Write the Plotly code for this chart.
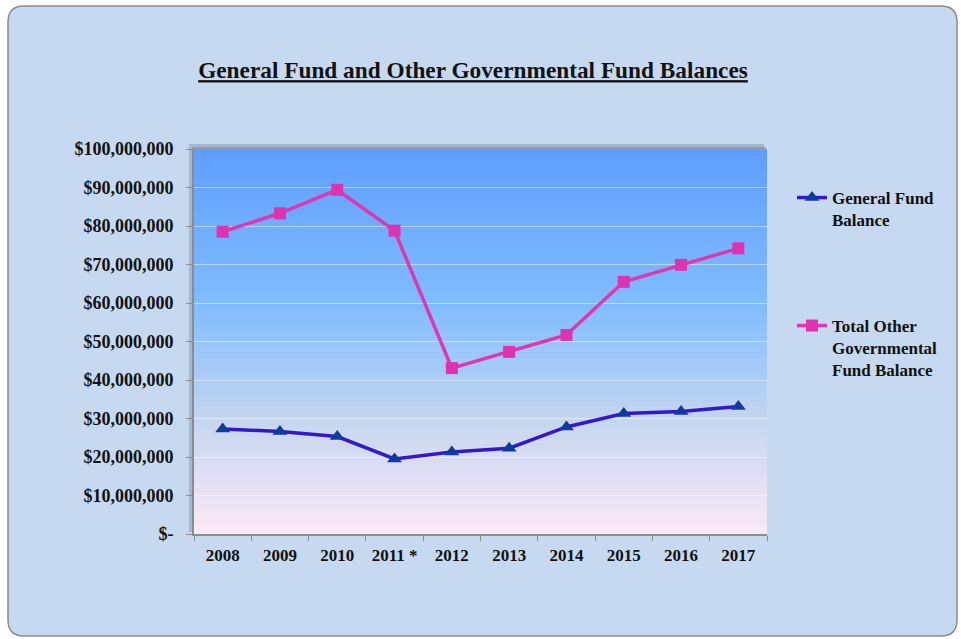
import plotly.graph_objects as go

# ---- data ----
years = ["2008", "2009", "2010", "2011 *", "2012", "2013", "2014", "2015", "2016", "2017"]
general_fund = [27.3e6, 26.6e6, 25.3e6, 19.5e6, 21.3e6, 22.3e6, 27.8e6, 31.3e6, 31.8e6, 33.1e6]
other_gov_fund = [78.5e6, 83.3e6, 89.4e6, 78.8e6, 43.1e6, 47.3e6, 51.7e6, 65.5e6, 69.9e6, 74.2e6]
y_tickvals = [0, 10e6, 20e6, 30e6, 40e6, 50e6, 60e6, 70e6, 80e6, 90e6, 100e6]
y_ticktext = ["$-", "$10,000,000", "$20,000,000", "$30,000,000", "$40,000,000",
              "$50,000,000", "$60,000,000", "$70,000,000", "$80,000,000",
              "$90,000,000", "$100,000,000"]

W, H = 961, 639
FONT = "Liberation Serif"

# plot area in pixels
PX0, PX1 = 194, 767
PY0, PY1 = 149, 534


def fx(px):
    return px / W


def fy(py):
    return 1 - py / H


shapes = []

# rounded panel behind everything
x0, x1, y0, y1 = fx(8), fx(957), fy(636), fy(6)
rx, ry = 16 / W, 16 / H
panel_path = (
    f"M {x0+rx},{y1} L {x1-rx},{y1} Q {x1},{y1} {x1},{y1-ry} "
    f"L {x1},{y0+ry} Q {x1},{y0} {x1-rx},{y0} "
    f"L {x0+rx},{y0} Q {x0},{y0} {x0},{y0+ry} "
    f"L {x0},{y1-ry} Q {x0},{y1} {x0+rx},{y1} Z"
)
shapes.append(dict(type="path", path=panel_path, xref="paper", yref="paper",
                   fillcolor="#C6D9F0", line=dict(color="#8C8C8C", width=1.5),
                   layer="below"))

# soft shadow along the top/left of the plot area
shapes.append(dict(type="rect", xref="paper", yref="paper",
                   x0=fx(PX0 - 5), x1=fx(PX1 - 3), y0=fy(PY1 - 2), y1=fy(PY0 - 5),
                   fillcolor="rgba(110,120,140,0.35)", line=dict(width=0), layer="below"))
shapes.append(dict(type="rect", xref="paper", yref="paper",
                   x0=fx(PX0 - 2), x1=fx(PX1 - 1), y0=fy(PY1 - 1), y1=fy(PY0 - 2),
                   fillcolor="rgba(110,120,140,0.45)", line=dict(width=0), layer="below"))

# vertical gradient fill of the plot area
stops = [(0.0, (95, 158, 255)), (0.40, (128, 188, 255)),
         (0.72, (200, 215, 240)), (1.0, (252, 233, 247))]


def color_at(t):
    for (t0, c0), (t1, c1) in zip(stops, stops[1:]):
        if t <= t1:
            u = (t - t0) / (t1 - t0)
            return tuple(round(a + (b - a) * u) for a, b in zip(c0, c1))
    return stops[-1][1]


N = 90
for i in range(N):
    t = (i + 0.5) / N
    r, g, b = color_at(t)
    ya = PY0 + (PY1 - PY0) * i / N
    yb = PY0 + (PY1 - PY0) * (i + 1) / N
    shapes.append(dict(type="rect", xref="paper", yref="paper",
                       x0=fx(PX0), x1=fx(PX1), y0=fy(yb + 0.6), y1=fy(ya),
                       fillcolor=f"rgb({r},{g},{b})", line=dict(width=0),
                       layer="below"))

fig = go.Figure()

fig.add_trace(go.Scatter(
    x=years, y=general_fund, mode="lines+markers",
    name="<b>General Fund<br>Balance</b>",
    line=dict(color="#3418CC", width=3.5),
    marker=dict(symbol="triangle-up", size=13, color="#123A9C",
                line=dict(width=0)),
    legend="legend", showlegend=True,
))
fig.add_trace(go.Scatter(
    x=years, y=other_gov_fund, mode="lines+markers",
    name="<b>Total Other<br>Governmental<br>Fund Balance</b>",
    line=dict(color="#DD38AE", width=3.5),
    marker=dict(symbol="square", size=12, color="#DD33AE",
                line=dict(width=0)),
    legend="legend2", showlegend=True,
))

legend_font = dict(family=FONT, size=17, color="#111111")

fig.update_layout(
    width=W, height=H,
    margin=dict(l=0, r=0, t=0, b=0, autoexpand=False),
    paper_bgcolor="white",
    plot_bgcolor="rgba(0,0,0,0)",
    showlegend=True,
    shapes=shapes,
    title=dict(
        text="<b><u>General Fund and Other Governmental Fund Balances</u></b>",
        x=fx(473), xanchor="center", y=fy(70), yanchor="middle",
        font=dict(family=FONT, size=23.3, color="#111111"),
    ),
    xaxis=dict(
        domain=[fx(PX0), fx(PX1)],
        type="category",
        range=[-0.5, len(years) - 0.5],
        tickson="boundaries",
        ticks="outside", ticklen=5, tickcolor="#8C8C8C", tickwidth=1,
        showline=True, linecolor="#8C8C8C", linewidth=2,
        showgrid=False, zeroline=False,
        tickfont=dict(family=FONT, size=17, color="#111111"),
        ticklabelstandoff=5,
        tickprefix="<b>", ticksuffix="</b>",
        fixedrange=True,
    ),
    yaxis=dict(
        domain=[fy(PY1), fy(PY0)],
        range=[0, 100e6],
        tickvals=y_tickvals,
        ticktext=[f"<b>{t}</b>" for t in y_ticktext],
        ticks="outside", ticklen=6, tickcolor="#8C8C8C", tickwidth=1,
        showline=True, linecolor="#8C8C8C", linewidth=2,
        showgrid=True, gridcolor="rgba(255,255,255,0.45)", gridwidth=1.2,
        zeroline=False,
        tickfont=dict(family=FONT, size=18, color="#111111"),
        ticklabelstandoff=9,
        fixedrange=True,
    ),
    legend=dict(
        x=fx(792), y=fy(180), xanchor="left", yanchor="top",
        bgcolor="rgba(0,0,0,0)", font=legend_font,
        itemwidth=30, tracegroupgap=0, valign="top",
    ),
    legend2=dict(
        x=fx(792), y=fy(308), xanchor="left", yanchor="top",
        bgcolor="rgba(0,0,0,0)", font=legend_font,
        itemwidth=30, tracegroupgap=0, valign="top",
    ),
)

fig.write_html("out.html")
